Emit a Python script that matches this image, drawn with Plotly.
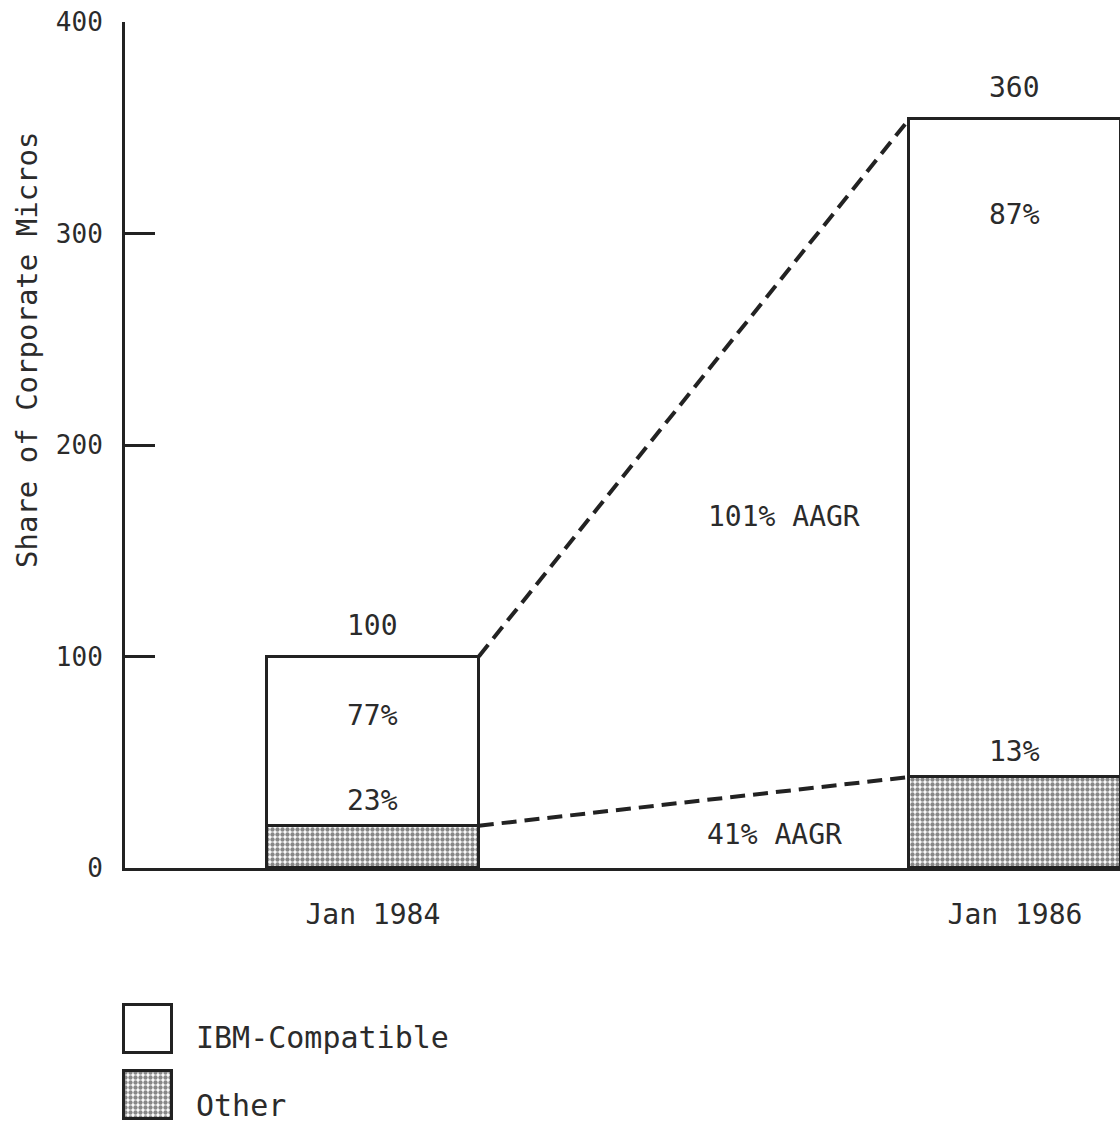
import plotly.graph_objects as go

# ---- data ----
periods = ["Jan 1984", "Jan 1986"]
other_vals = [20, 43]          # drawn height of "Other" segment
ibm_vals = [80, 311]           # drawn height of "IBM-Compatible" segment
total_labels = ["100", "360"]
ibm_pct_labels = ["77%", "87%"]
other_pct_labels = ["23%", "13%"]
growth_labels = ["101% AAGR", "41% AAGR"]
y_ticks = [0, 100, 200, 300, 400]
legend_names = ["IBM-Compatible", "Other"]

# ---- layout constants ----
W, H = 1120, 1123
ML, MR, MT, MB = 100, 0, 22, 0
PW, PH = W - ML - MR, H - MT - MB
INK = "#222222"
TXT = "#2b2b2b"
FONT = "DejaVu Sans Mono"
BAR_W = 0.33

def px_x(p):
    return (p - ML) / PW

def px_y(p):
    return (H - MB - p) / PH

xs = list(range(len(periods)))
totals = [o + i for o, i in zip(other_vals, ibm_vals)]

stipple = dict(shape=".", fgcolor="#111111", bgcolor="white", size=5,
               solidity=0.6, fillmode="overlay")

fig = go.Figure()
fig.add_bar(x=xs, y=other_vals, width=BAR_W, marker=dict(color="white", pattern=stipple,
            line=dict(color=INK, width=3)), showlegend=False, hoverinfo="skip")
fig.add_bar(x=xs, y=ibm_vals, width=BAR_W, marker=dict(color="white",
            line=dict(color=INK, width=3)), showlegend=False, hoverinfo="skip")

# dashed growth connectors between bar corners
for series in (totals, other_vals):
    fig.add_scatter(x=[xs[0] + BAR_W / 2, xs[1] - BAR_W / 2], y=series, mode="lines",
                    line=dict(color=INK, width=4, dash="15px,8px"),
                    showlegend=False, hoverinfo="skip")

# legend swatches on a small helper axis
sw_top_ibm, sw_top_oth, sw_size = 1005, 1071, 48
fig.add_bar(x=[30], y=[sw_size], base=[1122 - sw_top_oth - sw_size], width=[sw_size],
            marker=dict(color="white", pattern=stipple, line=dict(color=INK, width=3)),
            xaxis="x2", yaxis="y2", showlegend=False, hoverinfo="skip")
fig.add_bar(x=[30], y=[sw_size], base=[1122 - sw_top_ibm - sw_size], width=[sw_size],
            marker=dict(color="white", line=dict(color=INK, width=3)),
            xaxis="x2", yaxis="y2", showlegend=False, hoverinfo="skip")

ann = []
f = dict(family=FONT, size=28, color=TXT)
for i, x in enumerate(xs):
    ann.append(dict(x=x, y=totals[i], text=total_labels[i], xref="x", yref="y",
                    showarrow=False, xanchor="center", yanchor="bottom", yshift=13, font=f))
    ann.append(dict(x=x, y=other_vals[i], text=other_pct_labels[i], xref="x", yref="y",
                    showarrow=False, xanchor="center", yanchor="bottom", yshift=7, font=f))
ibm_pct_y = [72, 309]
for i, x in enumerate(xs):
    ann.append(dict(x=x, y=ibm_pct_y[i], text=ibm_pct_labels[i], xref="x", yref="y",
                    showarrow=False, xanchor="center", yanchor="middle", font=f))
growth_pos = [(0.64, 166), (0.625, 16)]
for (gx, gy), t in zip(growth_pos, growth_labels):
    ann.append(dict(x=gx, y=gy, text=t, xref="x", yref="y", showarrow=False,
                    xanchor="center", yanchor="middle", font=f))

ann.append(dict(x=px_x(27), y=px_y(350), xref="paper", yref="paper",
                text="Share of Corporate Micros", textangle=-90, showarrow=False,
                xanchor="center", yanchor="middle",
                font=dict(family=FONT, size=29, color=TXT)))
for name, cy in zip(legend_names, [1037, 1105]):
    ann.append(dict(x=px_x(194), y=px_y(cy), xref="paper", yref="paper", text=name,
                    xanchor="left", yanchor="middle", showarrow=False,
                    font=dict(family=FONT, size=30, color=TXT)))

fig.update_layout(
    width=W, height=H, margin=dict(l=ML, r=MR, t=MT, b=MB, autoexpand=False),
    paper_bgcolor="white", plot_bgcolor="white", barmode="stack", bargap=0,
    annotations=ann,
    xaxis=dict(domain=[px_x(125), 1], range=[-0.386, 1.1636], tickvals=xs, ticktext=periods,
               showgrid=False, zeroline=False, showline=True, linecolor=INK, linewidth=3,
               ticks="", ticklabelstandoff=19, tickfont=dict(family=FONT, size=28, color=TXT),
               anchor="y", automargin=False),
    yaxis=dict(domain=[px_y(868), 1], range=[0, 400], tickvals=y_ticks, showgrid=False,
               zeroline=False, showline=True, linecolor=INK, linewidth=3,
               ticks="inside", ticklen=30, tickwidth=3, tickcolor=INK,
               ticklabelstandoff=14, tickfont=dict(family=FONT, size=26, color=TXT),
               anchor="x", automargin=False),
    xaxis2=dict(domain=[px_x(118), px_x(178)], range=[0, 60], visible=False, anchor="y2"),
    yaxis2=dict(domain=[px_y(1122), px_y(1000)], range=[0, 122], visible=False, anchor="x2"),
)

fig.write_html("out.html", config={"displayModeBar": False},
               post_script="document.body.style.margin='0';document.body.style.overflow='hidden';")
